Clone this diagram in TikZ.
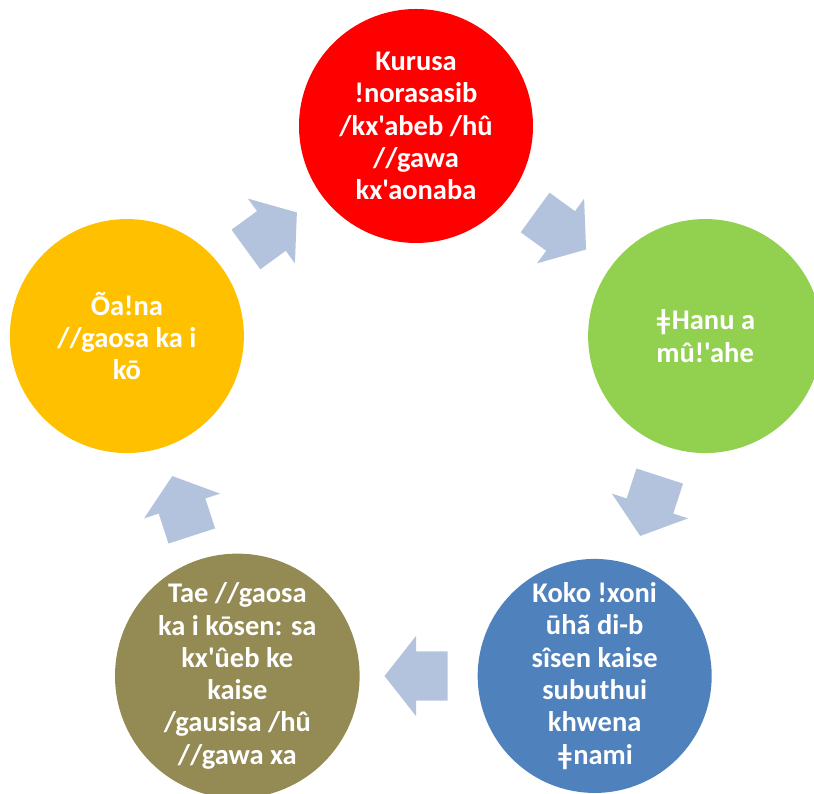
\documentclass[tikz,border=0pt]{standalone}
\usepackage{fontspec}
\setmainfont{Carlito}[Ligatures=TeXOff]
\usetikzlibrary{calc}
\begin{document}
\begin{tikzpicture}[x=1pt,y=1pt,
  circ/.style={circle,minimum size=234pt,inner sep=0pt,text=white,align=center,
    font=\fontsize{28.5}{32.3}\selectfont\bfseries},
  blockarrow/.style={fill={rgb,255:red,179;green,195;blue,221}}]
\useasboundingbox (0,0) rectangle (814,793);
\clip (0,0) rectangle (814,793);
\coordinate (C) at (416,363);
\definecolor{cred}{RGB}{255,0,0}
\definecolor{cgreen}{RGB}{146,208,80}
\definecolor{cblue}{RGB}{79,129,189}
\definecolor{colive}{RGB}{148,138,84}
\definecolor{cyellow}{RGB}{255,192,0}
\node[circ,fill=cred] (n1) at ($(C)+(90:304)$) {Kurusa\\!norasasib\\/kx'abeb /hû\\//gawa\\kx'aonaba};
\node[circ,fill=cgreen] (n2) at ($(C)+(18:304)$) {ǂHanu a\\mû!'ahe};
\node[circ,fill=cblue] (n3) at ($(C)+(-54:304)$) {Koko !xoni\\ūhã di-b\\sîsen kaise\\subuthui\\khwena\\ǂnami};
\node[circ,fill=colive] (n4) at ($(C)+(-126:304)$) {Tae //gaosa\\ka i kōsen: sa\\kx'ûeb ke\\kaise\\/gausisa /hû\\//gawa xa};
\node[circ,fill=cyellow] (n5) at ($(C)+(162:304)$) {Õa!na\\//gaosa ka i\\kō};
\foreach \a/\nm in {54/a1,-18/a2,-90/a3,-162/a4,126/a5}{
  \coordinate (\nm) at ($(C)+(\a:246)$);
  \fill[blockarrow,shift={(\nm)},rotate=\a-90]
    (-31.5,-24.5) -- (0,-24.5) -- (0,-40) -- (31.5,0) -- (0,40) -- (0,24.5) -- (-31.5,24.5) -- cycle;
}
\end{tikzpicture}
\end{document}
